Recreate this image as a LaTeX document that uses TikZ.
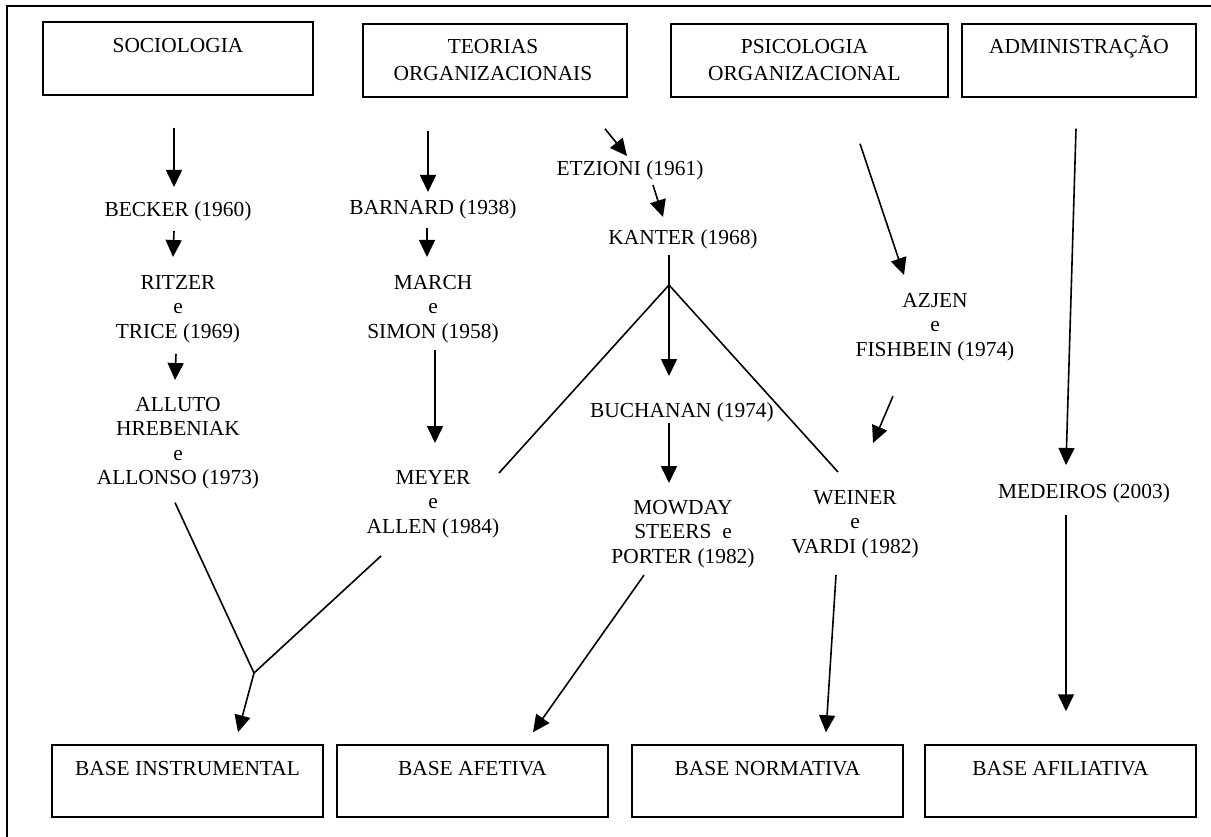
\documentclass[tikz,border=0pt]{standalone}
\usepackage{fontspec}
\setmainfont{Liberation Serif}
\usetikzlibrary{arrows.meta, calc, positioning}

\tikzset{
    caixa/.style={draw, line width=1.5pt, inner sep=0pt, minimum width=271pt, minimum height=72pt},
    autor/.style={anchor=north, align=center, inner sep=0pt},
    seta/.style={line width=1.6pt, -{Triangle[length=17pt, width=16pt]}},
    linha/.style={line width=1.6pt},
}

\begin{document}
\begin{tikzpicture}[x=1pt, y=-1pt, font=\fontsize{21.4}{24.5}\selectfont]
    \useasboundingbox (0,0) rectangle (1211,837);
    % Moldura
    \draw[line width=1.8pt] (7,837) -- (7,6) -- (1211,6);

    % Areas de origem
    \node[caixa, minimum width=270pt, minimum height=73pt] (soc) at (178,58.5) {};
    \node[caixa, minimum width=264pt, minimum height=73pt] (teo) at (495,60.5) {};
    \node[caixa, minimum width=277pt, minimum height=73pt] (psi) at (809.5,60.5) {};
    \node[caixa, minimum width=234pt, minimum height=73pt] (adm) at (1079,60.5) {};
    \node[autor, anchor=base] (socT) at ($(soc.north)+(0,31)$) {SOCIOLOGIA};
    \node[autor] (teoT) at ($(teo.north)+(-2,16)$) {TEORIAS\\[2.5pt]ORGANIZACIONAIS};
    \node[autor] (psiT) at ($(psi.north)+(-5,16)$) {PSICOLOGIA\\[2.5pt]ORGANIZACIONAL};
    \node[autor, anchor=base] (admT) at ($(adm.north)+(0,30.5)$) {ADMINISTRAÇÃO};

    % Bases
    \node[caixa] (bi) at (187.5,781) {};
    \node[caixa] (baf) at (472.5,781) {};
    \node[caixa] (bn) at (767.5,781) {};
    \node[caixa] (bafil) at (1060.5,781) {};
    \node[autor, anchor=base] (biT) at ($(bi.north)+(0,31)$) {BASE INSTRUMENTAL};
    \node[autor, anchor=base] (bafT) at ($(baf.north)+(0,31)$) {BASE AFETIVA};
    \node[autor, anchor=base] (bnT) at ($(bn.north)+(0,31)$) {BASE NORMATIVA};
    \node[autor, anchor=base] (bafilT) at ($(bafil.north)+(0,31)$) {BASE AFILIATIVA};

    % Autores
    \node[autor, anchor=base] (becker) at (178,217) {BECKER (1960)};
    \node[autor] (ritzer) at (178,275) {RITZER\\e\\TRICE (1969)};
    \node[autor] (alluto) at (178,397) {ALLUTO\\HREBENIAK\\e\\ALLONSO (1973)};
    \node[autor, anchor=base] (barnard) at (433,215) {BARNARD (1938)};
    \node[autor] (march) at (433,275) {MARCH\\e\\SIMON (1958)};
    \node[autor] (meyer) at (433,470) {MEYER\\e\\ALLEN (1984)};
    \node[autor, anchor=base] (etzioni) at (630,176) {ETZIONI (1961)};
    \node[autor, anchor=base] (kanter) at (683,245) {KANTER (1968)};
    \node[autor, anchor=base] (buchanan) at (682,417) {BUCHANAN (1974)};
    \node[autor] (mowday) at (683,500) {MOWDAY\\STEERS~ e\\PORTER (1982)};
    \node[autor] (weiner) at (855,490) {WEINER\\e\\VARDI (1982)};
    \node[autor] (azjen) at (935,293) {AZJEN\\e\\FISHBEIN (1974)};
    \node[autor, anchor=base] (medeiros) at (1084,498) {MEDEIROS (2003)};

    \coordinate (j1) at (254,673);
    \coordinate (j2) at (669,285);

    % Sociologia
    \draw[seta] ($(soc.south)+(-4,32)$) -- ($(becker.base)+(-4,-30)$);
    \draw[seta] ($(becker.base)+(-4,14)$) -- ($(ritzer.north)+(-5,-18)$);
    \draw[seta] ($(ritzer.south)+(-2,11)$) -- ($(alluto.north)+(-3,-17)$);
    \draw[linha] ($(alluto.south)+(-3,13)$) -- (j1);
    \draw[linha] ($(meyer.south)+(-52,18)$) -- (j1);
    \draw[seta] (j1) -- ($(bi.north)+(50.5,-12)$);

    % Teorias organizacionais
    \draw[seta] ($(teo.south)+(-67,33)$) -- ($(barnard.base)+(-5,-23)$);
    \draw[seta] ($(barnard.base)+(-6,13)$) -- ($(march.north)+(-6,-18)$);
    \draw[seta] ($(march.south)+(2,7)$) -- ($(meyer.north)+(2,-27)$);
    \draw[seta] ($(teo.south)+(110,31)$) -- ($(etzioni.base)+(-3,-20)$);
    \draw[seta] ($(etzioni.base)+(23,9)$) -- ($(kanter.base)+(-20,-28)$);
    \draw[linha] ($(kanter.base)+(-14,10)$) -- (j2);
    \draw[linha] (j2) -- ($(meyer.north)+(66,3)$);
    \draw[linha] (j2) -- ($(weiner.north)+(-17,-18)$);
    \draw[seta] (j2) -- ($(buchanan.base)+(-13,-41)$);
    \draw[seta] ($(buchanan.base)+(-13,6)$) -- ($(mowday.north)+(-14,-17)$);
    \draw[seta] ($(mowday.south)+(-39,7)$) -- ($(baf.north)+(60.5,-12)$);

    % Psicologia organizacional
    \draw[seta] ($(psi.south)+(50.5,46)$) -- ($(azjen.north)+(-31,-18)$);
    \draw[seta] ($(azjen.south)+(-42,35)$) -- ($(weiner.north)+(18,-47)$);
    \draw[seta] ($(weiner.south)+(-19,17)$) -- ($(bn.north)+(58.5,-12)$);

    % Administracao
    \draw[seta] ($(adm.south)+(-3,31)$) -- ($(medeiros.base)+(-18,-33)$);
    \draw[seta] ($(medeiros.base)+(-18,17)$) -- ($(bafil.north)+(5.5,-33)$);
\end{tikzpicture}
\end{document}
